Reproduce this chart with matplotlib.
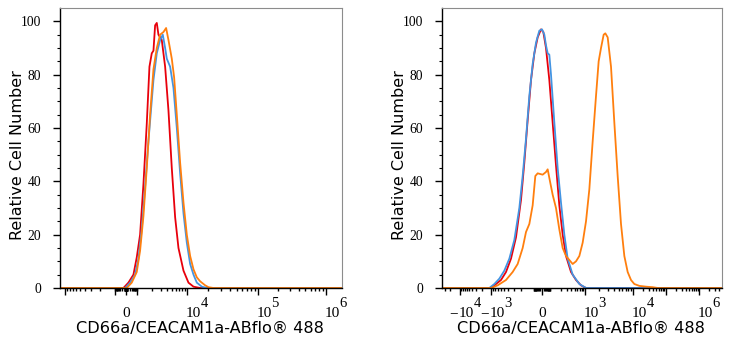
import numpy as np
import matplotlib
matplotlib.use("Agg")
import matplotlib.pyplot as plt
from matplotlib.transforms import ScaledTranslation, blended_transform_factory

# ----------------------------
# Data (x in display channels 0-1000, y in % of max)
# ----------------------------

left_red_x = [0, 224.9, 242.6, 260.4, 272.2, 284.0, 295.9, 307.7, 317.2, 325.4, 331.4, 337.3,
              343.2, 349.1, 360.9, 372.8, 384.6, 396.4, 408.3, 420.1, 437.9, 455.6, 473.4, 497.0, 1000]
left_red_y = [0, 0, 2, 5, 11.5, 20, 39, 61.6, 83, 88, 89, 98.5,
              99.4, 95, 93, 83, 66.6, 45, 26.5, 15, 6.5, 2, 0.5, 0, 0]

left_blue_x = [0, 230.8, 248.5, 266.3, 278.1, 289.9, 301.8, 313.6, 331.4, 343.2, 355.0, 364.5,
               372.8, 378.7, 390.5, 402.4, 414.2, 426.0, 437.9, 449.7, 461.5, 473.4, 485.2, 503.0, 520.7, 1000]
left_blue_y = [0, 0, 2, 5, 11, 22, 38, 55, 78, 88, 93, 95,
               90, 86, 83, 75, 60, 43, 28, 17, 9, 5, 2, 0.5, 0, 0]

left_orange_x = [0, 236.7, 254.4, 272.2, 284.0, 295.9, 307.7, 319.5, 331.4, 343.2, 355.0, 366.9,
                 376.3, 384.6, 396.4, 404.7, 414.2, 426.0, 437.9, 449.7, 461.5, 473.4, 485.2,
                 497.0, 514.8, 526.6, 544.4, 1000]
left_orange_y = [0, 0, 2, 6, 14, 27, 45, 65, 82, 90, 95, 96,
                 97.5, 93, 86, 79, 65, 47, 32, 20, 12, 7, 4,
                 2.5, 1, 0.3, 0, 0]

right_red_x = [0, 175.0, 192.9, 210.7, 228.6, 246.4, 264.3, 282.1, 294.0, 306.0, 317.9, 329.8,
               341.7, 353.6, 361.9, 371.4, 383.3, 395.2, 407.1, 419.0, 431.0, 442.9, 460.7,
               478.6, 496.4, 514.3, 1000]
right_red_y = [0, 0, 1.5, 3, 6, 11, 19, 33, 47, 63, 78, 88,
               94, 97, 96, 90, 78, 62, 46, 31, 20, 12, 6,
               3, 1, 0, 0]

right_blue_x = [0, 169.0, 186.9, 204.8, 222.6, 240.5, 258.3, 276.2, 288.1, 300.0, 311.9, 323.8,
                335.7, 347.6, 357.2, 365.5, 371.4, 377.4, 383.3, 389.3, 401.2, 413.1, 425.0,
                436.9, 448.8, 466.7, 490.5, 514.3, 1000]
right_blue_y = [0, 0, 1.5, 3.5, 6.5, 11, 18, 30, 42, 56, 72, 84,
                92, 96.5, 97, 95, 91, 88, 87.5, 80, 62, 45, 32,
                20, 11, 5, 1.5, 0, 0]

right_orange_x = [0, 175.0, 198.8, 228.6, 252.4, 270.2, 288.1, 300.0, 311.9, 323.8, 333.3, 341.7,
                  359.5, 371.4, 377.4, 385.7, 395.2, 407.1, 419.0, 431.0, 442.9, 454.8, 466.7,
                  478.6, 490.5, 502.4, 514.3, 526.2, 538.1, 550.0, 559.5, 567.9, 577.4, 583.3,
                  591.7, 603.6, 615.5, 627.4, 639.3, 651.2, 663.1, 675.0, 686.9, 704.8, 728.6,
                  752.4, 770.3, 1000]
right_orange_y = [0, 0, 1, 3, 6, 9, 15, 21, 24, 31, 42, 43,
                  42.5, 43.5, 44.5, 40, 35, 30, 22, 15, 12, 10.5, 9,
                  10, 12, 17, 25, 37, 55, 72, 85, 90, 95, 95.5,
                  94, 83, 62, 42, 24, 12, 6, 3, 1.5, 0.8, 0.5,
                  0.3, 0, 0]

# axis scale: fluorescence value -> display channel
anchor_vals = [-1e5, -1e4, -1e3, -1e2, 0, 1e2, 1e3, 1e4, 1e5, 1e6, 1e7]
left_anchor_ch = [-234, 18, 195, 230, 234, 238, 273, 450, 702, 943, 1188]
right_anchor_ch = [-50, 64, 175, 329, 357, 386, 511, 682, 800, 918, 1036]

# labelled ticks: value -> (sign, base, exponent)
left_labels = {0: ("", "0", ""), 1e4: ("", "10", "4"), 1e5: ("", "10", "5"), 1e6: ("", "10", "6")}
right_labels = {-1e4: ("\u2212", "10", "4"), -1e3: ("\u2212", "10", "3"), 0: ("", "0", ""),
                1e3: ("", "10", "3"), 1e4: ("", "10", "4"), 1e6: ("", "10", "6")}

xlabel = "CD66a/CEACAM1a-ABflo® 488"
ylabel = "Relative Cell Number"

colors = {"red": "#e8000b", "blue": "#4394e2", "orange": "#ff7f0e"}
serif = "Liberation Serif"


def to_ch(v, anchor_ch):
    u = np.arcsinh(np.asarray(v, dtype=float) / 20) / np.log(10)
    ua = np.arcsinh(np.asarray(anchor_vals) / 20) / np.log(10)
    return np.interp(u, ua, anchor_ch)


def px(ax, dx, dy):
    # offset in screen pixels (figure saved at 100 dpi)
    return ScaledTranslation(dx / 100, dy / 100, ax.figure.dpi_scale_trans)


def style_axes(ax, anchor_ch, labels):
    majors = sorted([0] + [s * 10.0 ** k for k in range(3, 7) for s in (-1, 1)])
    ax.set_xticks(to_ch(majors, anchor_ch))
    ax.set_xticklabels([""] * len(majors))

    minors = [s * m * 10.0 ** k for k in range(1, 7) for m in range(1, 10) for s in (-1, 1)
              if not (m == 1 and k >= 3)]
    ax.set_xticks(to_ch(minors, anchor_ch), minor=True)

    ax.set_yticks(np.arange(0, 101, 20))
    ax.set_yticks(np.arange(0, 101, 5), minor=True)

    # set limits after ticks, since set_xticks widens the view
    ax.set_xlim(0, 1000)
    ax.set_ylim(0, 105)

    ax.tick_params(axis="both", which="major", direction="out", length=5, width=1)
    ax.tick_params(axis="x", which="minor", direction="out", length=2.5, width=1)
    ax.tick_params(axis="y", which="minor", direction="out", length=2.5, width=0.8)
    ax.tick_params(axis="y", which="major", labelsize=9.8, pad=8.5)
    for lab in ax.get_yticklabels():
        lab.set_fontfamily(serif)

    # x tick labels: "10" with a full size raised exponent
    base = blended_transform_factory(ax.transData, ax.transAxes)
    for v, (sign, mant, expo) in labels.items():
        x = float(to_ch(v, anchor_ch))
        if mant == "0":
            ax.text(x, 0, mant, transform=base + px(ax, 0, -29), ha="center", va="baseline",
                    fontsize=11, fontfamily=serif)
            continue
        if sign:
            ax.text(x, 0, sign, transform=base + px(ax, -2, -29), ha="right", va="baseline",
                    fontsize=11, fontfamily=serif)
        ax.text(x, 0, mant, transform=base + px(ax, -1, -29), ha="left", va="baseline",
                fontsize=11, fontfamily=serif)
        ax.text(x, 0, expo, transform=base + px(ax, 13.5, -19), ha="left", va="baseline",
                fontsize=10.5, fontfamily=serif)

    for side in ("top", "right"):
        ax.spines[side].set_color("#8c8c8c")
        ax.spines[side].set_linewidth(0.8)
    for side in ("left", "bottom"):
        ax.spines[side].set_color("black")
        ax.spines[side].set_linewidth(1)

    ax.set_xlabel(xlabel, fontsize=11.6, fontfamily="DejaVu Sans", va="top")
    ax.xaxis.set_label_coords(0.497, -33 / 280)
    ax.set_ylabel(ylabel, fontsize=11.5, fontfamily="DejaVu Sans")
    ax.yaxis.set_label_coords(-35 / 282, 0.475)


fig = plt.figure(figsize=(7.33, 3.5), dpi=100)
ax1 = fig.add_axes([60 / 733, 62 / 350, 282 / 733, 280 / 350])
ax2 = fig.add_axes([442 / 733, 62 / 350, 280 / 733, 280 / 350])

ax1.plot(left_red_x, left_red_y, color=colors["red"], lw=1.3)
ax1.plot(left_blue_x, left_blue_y, color=colors["blue"], lw=1.3)
ax1.plot(left_orange_x, left_orange_y, color=colors["orange"], lw=1.3)
style_axes(ax1, left_anchor_ch, left_labels)

ax2.plot(right_red_x, right_red_y, color=colors["red"], lw=1.3)
ax2.plot(right_blue_x, right_blue_y, color=colors["blue"], lw=1.3)
ax2.plot(right_orange_x, right_orange_y, color=colors["orange"], lw=1.3)
style_axes(ax2, right_anchor_ch, right_labels)

fig.savefig("out.png", dpi=100)
